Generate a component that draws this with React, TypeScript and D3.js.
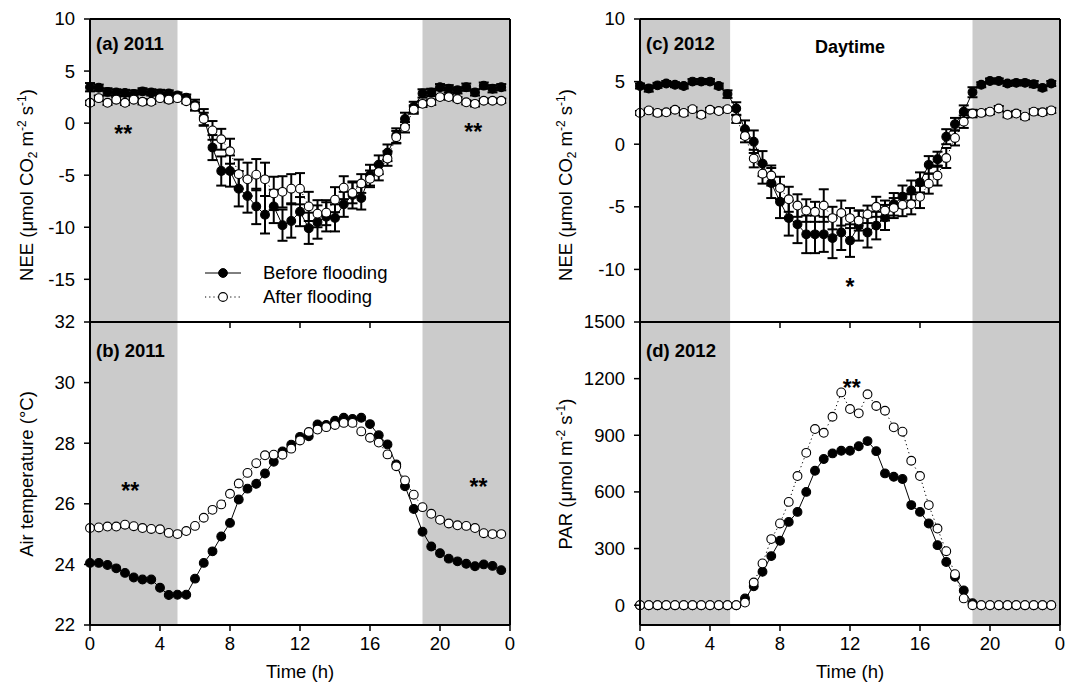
import React from "react";
import * as d3 from "d3";

// half-hourly time of day (h)
const hours = [
  0, 0.5, 1, 1.5, 2, 2.5, 3, 3.5, 4, 4.5, 5, 5.5, 6, 6.5, 7, 7.5, 8, 8.5, 9, 9.5, 10, 10.5, 11, 11.5,
  12, 12.5, 13, 13.5, 14, 14.5, 15, 15.5, 16, 16.5, 17, 17.5, 18, 18.5, 19, 19.5, 20, 20.5, 21, 21.5,
  22, 22.5, 23, 23.5,
];

// (a) NEE 2011
const neeBefore2011 = [
  3.45, 3.4, 3.0, 2.95, 2.9, 2.8, 3.05, 2.95, 2.85, 2.85, 2.65, 2.45, 1.75, 0.55, -2.35, -4.6, -4.6, -6.3,
  -7.0, -8.0, -8.8, -8.0, -9.8, -9.4, -8.5, -10.1, -9.5, -9.0, -9.1, -7.8, -6.9, -7.2, -5.0, -4.0, -2.85,
  -1.2, 0.4, 1.55, 2.85, 2.95, 3.45, 3.3, 3.15, 3.45, 2.95, 3.6, 3.3, 3.45,
];
const neeBefore2011Err = [
  0.4, 0.3, 0.35, 0.3, 0.3, 0.35, 0.3, 0.3, 0.35, 0.3, 0.3, 0.3, 0.5, 0.8, 1.2, 1.4, 1.5, 1.7, 1.6, 1.7,
  1.8, 1.6, 1.5, 1.6, 1.4, 1.5, 1.6, 1.4, 1.3, 1.2, 1.3, 1.1, 1.0, 0.9, 0.8, 0.7, 0.6, 0.5, 0.4, 0.35,
  0.3, 0.35, 0.3, 0.35, 0.3, 0.3, 0.35, 0.3,
];
const neeAfter2011 = [
  1.95, 2.4, 1.95, 2.25, 1.95, 2.25, 2.05, 2.05, 2.4, 2.25, 2.4, 2.1, 1.6, 0.4, -0.7, -1.55, -2.7, -4.9,
  -5.4, -4.95, -5.4, -6.75, -6.6, -6.3, -6.3, -8.0, -8.7, -8.6, -7.35, -6.2, -6.7, -5.8, -5.35, -4.7,
  -3.4, -1.35, -0.4, 1.3, 1.85, 2.0, 2.5, 2.5, 2.3, 2.0, 1.85, 2.15, 2.15, 2.15,
];
const neeAfter2011Err = [
  0.2, 0.25, 0.2, 0.25, 0.2, 0.2, 0.25, 0.2, 0.2, 0.25, 0.2, 0.2, 0.4, 0.6, 0.9, 1.0, 1.2, 1.4, 1.6, 1.5,
  1.6, 1.6, 1.5, 1.4, 1.5, 1.4, 1.3, 1.2, 1.2, 1.1, 1.0, 0.9, 0.8, 0.8, 0.7, 0.6, 0.5, 0.4, 0.3, 0.25,
  0.2, 0.25, 0.2, 0.2, 0.25, 0.2, 0.2, 0.2,
];

// (b) air temperature 2011
const tempBefore2011 = [
  24.05, 24.05, 23.98, 23.87, 23.72, 23.57, 23.5, 23.5, 23.23, 22.99, 23.0, 23.0, 23.53, 24.05, 24.43,
  24.92, 25.37, 26.14, 26.5, 26.66, 27.0, 27.39, 27.73, 27.95, 28.21, 28.23, 28.62, 28.6, 28.74, 28.84,
  28.8, 28.84, 28.63, 28.26, 27.96, 27.3, 26.58, 25.83, 25.08, 24.59, 24.37, 24.19, 24.1, 24.02, 23.94,
  24.0, 23.95, 23.81,
];
const tempAfter2011 = [
  25.2, 25.22, 25.25, 25.25, 25.31, 25.26, 25.2, 25.17, 25.16, 25.04, 25.0, 25.1, 25.27, 25.54, 25.8,
  25.98, 26.33, 26.67, 27.02, 27.34, 27.6, 27.62, 27.62, 27.82, 28.09, 28.37, 28.45, 28.53, 28.6, 28.67,
  28.67, 28.39, 28.18, 28.02, 27.63, 27.24, 26.77, 26.3, 25.89, 25.67, 25.47, 25.35, 25.29, 25.27, 25.2,
  25.03, 25.0, 25.0,
];

// (c) NEE 2012
const neeBefore2012 = [
  4.65, 4.45, 4.7, 4.85, 4.75, 4.65, 5.0, 5.0, 5.0, 4.65, 4.0, 2.85, 1.2, 0.2, -1.55, -3.1, -4.6, -5.9,
  -6.4, -7.2, -7.2, -7.2, -7.5, -7.05, -7.7, -6.5, -7.05, -6.5, -5.85, -4.8, -4.2, -3.7, -3.05, -1.65,
  -1.2, 0.6, 1.6, 2.6, 4.15, 4.75, 5.05, 5.05, 4.85, 4.9, 4.9, 4.8, 4.5, 4.85,
];
const neeBefore2012Err = [
  0.2, 0.25, 0.2, 0.2, 0.2, 0.2, 0.2, 0.2, 0.2, 0.2, 0.3, 0.5, 0.7, 0.9, 1.0, 1.2, 1.3, 1.4, 1.5, 1.5,
  1.5, 1.4, 1.6, 1.4, 1.3, 1.2, 1.2, 1.1, 1.0, 0.9, 0.9, 0.8, 0.8, 0.7, 0.6, 0.6, 0.5, 0.5, 0.4, 0.2,
  0.2, 0.2, 0.2, 0.2, 0.2, 0.25, 0.2, 0.2,
];
const neeAfter2012 = [
  2.5, 2.7, 2.5, 2.55, 2.75, 2.5, 2.8, 2.35, 2.75, 2.65, 2.8, 2.0, 0.65, -1.15, -2.35, -2.5, -3.5, -4.4,
  -4.9, -5.3, -5.4, -4.9, -5.9, -5.5, -5.9, -6.1, -5.6, -5.0, -5.3, -5.1, -4.85, -4.8, -4.2, -3.15, -2.5,
  -1.1, 0.5, 1.8, 2.45, 2.5, 2.6, 2.85, 2.35, 2.45, 2.2, 2.6, 2.55, 2.7,
];
const neeAfter2012Err = [
  0.15, 0.15, 0.2, 0.15, 0.15, 0.2, 0.15, 0.2, 0.15, 0.15, 0.15, 0.3, 0.5, 0.7, 0.8, 0.8, 0.9, 1.0, 0.9,
  0.9, 0.8, 1.3, 0.9, 1.0, 0.8, 0.8, 0.7, 0.8, 0.8, 0.8, 0.9, 0.8, 0.9, 0.8, 0.8, 0.8, 0.6, 0.5, 0.3,
  0.2, 0.2, 0.2, 0.2, 0.2, 0.2, 0.2, 0.2, 0.2,
];

// (d) PAR 2012
const parBefore2012 = [
  0, 0, 0, 0, 0, 0, 0, 0, 0, 0, 0, 0, 35, 100, 177, 260, 341, 441, 494, 600, 712, 774, 804, 818, 818, 842,
  869, 816, 698, 680, 668, 530, 494, 433, 318, 229, 150, 78, 10, 0, 0, 0, 0, 0, 0, 0, 0, 0,
];
const parAfter2012 = [
  0, 0, 0, 0, 0, 0, 0, 0, 0, 0, 0, 0, 14, 120, 221, 350, 433, 547, 684, 807, 933, 913, 998, 1127, 1039,
  1016, 1117, 1055, 1030, 942, 919, 765, 684, 530, 406, 286, 164, 36, 0, 0, 0, 0, 0, 0, 0, 0, 0, 0,
];

const timeTicks = [0, 4, 8, 12, 16, 20, 24];
const timeTickLabels = ["0", "4", "8", "12", "16", "20", "0"];
const neeTicks2011 = [10, 5, 0, -5, -10, -15];
const tempTicks = [22, 24, 26, 28, 30, 32];
const neeTicks2012 = [10, 5, 0, -5, -10];
const parTicks = [0, 300, 600, 900, 1200, 1500];

const FONT = "'Liberation Sans', Arial, Helvetica, sans-serif";
const SHADE = "#cbcbcb";
const FS = 18.5;

type Series = { values: number[]; err?: number[]; filled: boolean };

type PanelProps = {
  x0: number;
  x1: number;
  y0: number;
  y1: number;
  domain: [number, number];
  ticks: number[];
  showTimeLabels: boolean;
  nightEnd: number;
  nightStart: number;
  series: Series[];
};

function Panel(props: PanelProps) {
  const { x0, x1, y0, y1, domain, ticks, showTimeLabels, nightEnd, nightStart, series } = props;
  const x = d3.scaleLinear().domain([0, 24]).range([x0, x1]);
  const y = d3.scaleLinear().domain(domain).range([y1, y0]);

  const line = d3
    .line<number>()
    .x((_, i) => x(hours[i]))
    .y((d) => y(d));

  const cap = 5;

  return (
    <g>
      <rect x={x(0)} y={y0} width={x(nightEnd) - x(0)} height={y1 - y0} fill={SHADE} />
      <rect x={x(nightStart)} y={y0} width={x(24) - x(nightStart)} height={y1 - y0} fill={SHADE} />

      {/* error bars */}
      {series.map((s, si) =>
        s.err ? (
          <g key={"e" + si} stroke="#000" strokeWidth={2}>
            {s.values.map((v, i) => {
              const cx = x(hours[i]);
              const lo = y(v - s.err![i]);
              const hi = y(v + s.err![i]);
              return (
                <g key={i}>
                  <line x1={cx} x2={cx} y1={lo} y2={hi} />
                  <line x1={cx - cap} x2={cx + cap} y1={lo} y2={lo} />
                  <line x1={cx - cap} x2={cx + cap} y1={hi} y2={hi} />
                </g>
              );
            })}
          </g>
        ) : null
      )}

      {series.map((s, si) => (
        <g key={"s" + si}>
          <path
            d={line(s.values) ?? ""}
            fill="none"
            stroke="#000"
            strokeWidth={1}
            strokeDasharray={s.filled ? undefined : "1.2,3"}
          />
          {s.values.map((v, i) => (
            <circle
              key={i}
              cx={x(hours[i])}
              cy={y(v)}
              r={4.4}
              fill={s.filled ? "#000" : "#fff"}
              stroke="#000"
              strokeWidth={1.1}
            />
          ))}
        </g>
      ))}

      {/* frame */}
      <g stroke="#000" fill="none" strokeWidth={2}>
        <line x1={x0} x2={x1} y1={y0} y2={y0} />
        <line x1={x1} x2={x1} y1={y0} y2={y1} />
        <line x1={x0} x2={x0} y1={y0} y2={y1} />
        <line x1={x0} x2={x1} y1={y1} y2={y1} />
      </g>

      {/* y ticks */}
      {ticks.map((t) => (
        <g key={"y" + t}>
          <line x1={x0 - 6} x2={x0} y1={y(t)} y2={y(t)} stroke="#000" strokeWidth={1.5} />
          <text x={x0 - 15} y={y(t)} dy="0.35em" textAnchor="end" fontSize={FS} fontFamily={FONT}>
            {t}
          </text>
        </g>
      ))}

      {/* x ticks */}
      {timeTicks.map((t, i) => (
        <g key={"x" + t}>
          <line x1={x(t)} x2={x(t)} y1={y1} y2={y1 + 6} stroke="#000" strokeWidth={1.5} />
          {showTimeLabels && (
            <text x={x(t)} y={y1 + 25} textAnchor="middle" fontSize={FS} fontFamily={FONT}>
              {timeTickLabels[i]}
            </text>
          )}
        </g>
      ))}
    </g>
  );
}

function UnitLabel({ cx, cy, prefix, co2 }: { cx: number; cy: number; prefix: string; co2: boolean }) {
  return (
    <text
      transform={`translate(${cx},${cy}) rotate(-90)`}
      textAnchor="middle"
      dy="0.35em"
      fontSize={FS}
      fontFamily={FONT}
    >
      {prefix} (μmol{co2 ? " CO" : ""}
      {co2 && (
        <tspan fontSize={12} dy={4}>
          2
        </tspan>
      )}
      <tspan dy={co2 ? -4 : 0}> m</tspan>
      <tspan fontSize={12} dy={-7}>
        -2
      </tspan>
      <tspan dy={7}> s</tspan>
      <tspan fontSize={12} dy={-7}>
        -1
      </tspan>
      <tspan dy={7}>)</tspan>
    </text>
  );
}

export default function App() {
  const L0 = 90,
    L1 = 510,
    R0 = 640,
    R1 = 1060;
  const T0 = 19,
    MID = 322,
    B1 = 625;
  const xl = d3.scaleLinear().domain([0, 24]).range([L0, L1]);
  const xr = d3.scaleLinear().domain([0, 24]).range([R0, R1]);

  const bold = { fontFamily: FONT, fontWeight: 700 as const };

  return (
    <svg
      width={1079}
      height={685}
      style={{ position: "absolute", left: 0, top: 0, background: "#fff" }}
    >
      <Panel
        x0={L0}
        x1={L1}
        y0={T0}
        y1={MID}
        domain={[-19.1, 10]}
        ticks={neeTicks2011}
        showTimeLabels={false}
        nightEnd={5}
        nightStart={19}
        series={[
          { values: neeBefore2011, err: neeBefore2011Err, filled: true },
          { values: neeAfter2011, err: neeAfter2011Err, filled: false },
        ]}
      />
      <Panel
        x0={L0}
        x1={L1}
        y0={MID}
        y1={B1}
        domain={[22, 32]}
        ticks={tempTicks}
        showTimeLabels={true}
        nightEnd={5}
        nightStart={19}
        series={[
          { values: tempBefore2011, filled: true },
          { values: tempAfter2011, filled: false },
        ]}
      />
      <Panel
        x0={R0}
        x1={R1}
        y0={T0}
        y1={MID}
        domain={[-14.2, 10]}
        ticks={neeTicks2012}
        showTimeLabels={false}
        nightEnd={5.15}
        nightStart={19}
        series={[
          { values: neeBefore2012, err: neeBefore2012Err, filled: true },
          { values: neeAfter2012, err: neeAfter2012Err, filled: false },
        ]}
      />
      <Panel
        x0={R0}
        x1={R1}
        y0={MID}
        y1={B1}
        domain={[-105, 1500]}
        ticks={parTicks}
        showTimeLabels={true}
        nightEnd={5.15}
        nightStart={19}
        series={[
          { values: parBefore2012, filled: true },
          { values: parAfter2012, filled: false },
        ]}
      />

      {/* panel labels */}
      <text x={96} y={50} fontSize={18.5} {...bold}>(a) 2011</text>
      <text x={96} y={357} fontSize={18.5} {...bold}>(b) 2011</text>
      <text x={646} y={50} fontSize={18.5} {...bold}>(c) 2012</text>
      <text x={646} y={357} fontSize={18.5} {...bold}>(d) 2012</text>
      <text x={xr(12)} y={53} fontSize={18} textAnchor="middle" {...bold}>Daytime</text>

      {/* significance marks */}
      <text x={xl(1.9)} y={142} fontSize={23} textAnchor="middle" {...bold}>**</text>
      <text x={xl(21.9)} y={140} fontSize={23} textAnchor="middle" {...bold}>**</text>
      <text x={xl(2.3)} y={499} fontSize={23} textAnchor="middle" {...bold}>**</text>
      <text x={xl(22.2)} y={495} fontSize={23} textAnchor="middle" {...bold}>**</text>
      <text x={xr(12)} y={295} fontSize={23} textAnchor="middle" {...bold}>*</text>
      <text x={xr(12.1)} y={396} fontSize={23} textAnchor="middle" {...bold}>**</text>

      {/* legend */}
      <g>
        <line x1={205} x2={241} y1={273} y2={273} stroke="#000" strokeWidth={1} />
        <circle cx={223} cy={273} r={4.4} fill="#000" stroke="#000" />
        <text x={263} y={273} dy="0.35em" fontSize={FS} fontFamily={FONT}>Before flooding</text>
        <line x1={205} x2={241} y1={297} y2={297} stroke="#000" strokeWidth={1} strokeDasharray="1.2,3" />
        <circle cx={223} cy={297} r={4.4} fill="#fff" stroke="#000" strokeWidth={1.1} />
        <text x={263} y={297} dy="0.35em" fontSize={FS} fontFamily={FONT}>After flooding</text>
      </g>

      {/* axis titles */}
      <UnitLabel cx={27} cy={185} prefix="NEE" co2={true} />
      <UnitLabel cx={566} cy={185} prefix="NEE" co2={true} />
      <text
        transform={`translate(27,474) rotate(-90)`}
        textAnchor="middle"
        dy="0.35em"
        fontSize={FS}
        fontFamily={FONT}
      >
        Air temperature (°C)
      </text>
      <UnitLabel cx={566} cy={474} prefix="PAR" co2={false} />
      <text x={xl(12)} y={678} textAnchor="middle" fontSize={FS} fontFamily={FONT}>Time (h)</text>
      <text x={xr(12)} y={678} textAnchor="middle" fontSize={FS} fontFamily={FONT}>Time (h)</text>
    </svg>
  );
}
